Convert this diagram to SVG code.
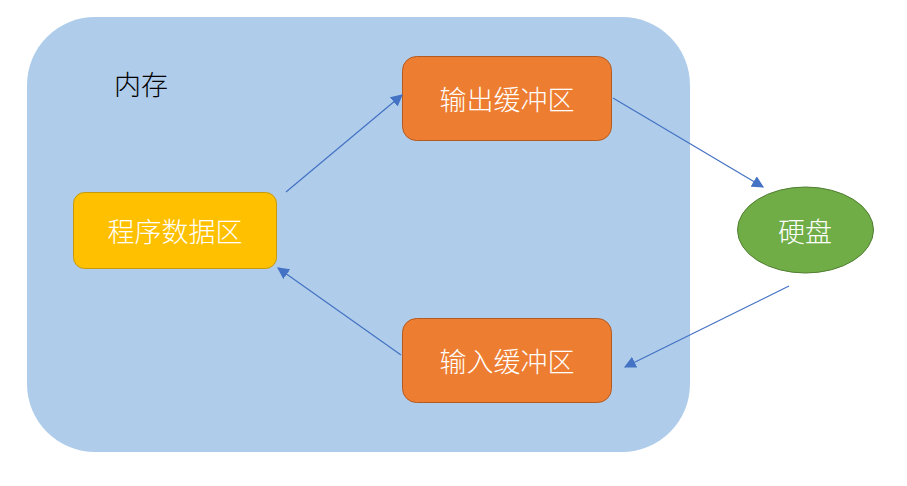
<svg xmlns="http://www.w3.org/2000/svg" width="907" height="486" viewBox="0 0 907 486">
<defs>
<style>
.lbl{font-family:"Microsoft YaHei","Noto Sans CJK SC",sans-serif;font-size:27px;font-weight:300;fill:#fff;text-anchor:middle;dominant-baseline:central}
.conn{stroke:#4472C4;stroke-width:1.2;fill:none;marker-end:url(#arr)}
</style>
<marker id="arr" viewBox="0 0 10 10" refX="9" refY="5" markerWidth="12" markerHeight="12" markerUnits="userSpaceOnUse" orient="auto">
<path d="M0,0 L10,5 L0,10 z" fill="#4472C4"/>
</marker>
</defs>
<rect width="907" height="486" fill="#fff"/>
<g id="memory">
<rect x="27" y="17" width="663" height="435" rx="68" ry="68" fill="#AFCDEA"/>
<text x="141" y="83" style="font-family:'Noto Sans CJK SC',sans-serif;font-size:27px;font-weight:300;fill:#000;text-anchor:middle;dominant-baseline:central">内存</text>
</g>
<g id="program-data">
<rect x="73.5" y="192.5" width="203" height="76" rx="11" fill="#FFC000" stroke="#C49A0A" stroke-width="1"/>
<text class="lbl" x="175" y="230">程序数据区</text>
</g>
<g id="output-buffer">
<rect x="402.5" y="56.5" width="209" height="84" rx="14" fill="#ED7D31" stroke="#B45B22" stroke-width="1"/>
<text class="lbl" x="507" y="98">输出缓冲区</text>
</g>
<g id="input-buffer">
<rect x="402.5" y="318.5" width="209" height="84" rx="14" fill="#ED7D31" stroke="#B45B22" stroke-width="1"/>
<text class="lbl" x="507" y="360">输入缓冲区</text>
</g>
<g id="disk">
<ellipse cx="805.5" cy="230" rx="68" ry="43" fill="#70AD47" stroke="#507E32" stroke-width="1"/>
<text class="lbl" x="805" y="230">硬盘</text>
</g>
<g id="connectors">
<line class="conn" x1="286" y1="192" x2="402" y2="95"/>
<line class="conn" x1="613" y1="98" x2="763" y2="187"/>
<line class="conn" x1="789" y1="286" x2="625" y2="367"/>
<line class="conn" x1="401" y1="355" x2="278" y2="268"/>
</g>
</svg>
